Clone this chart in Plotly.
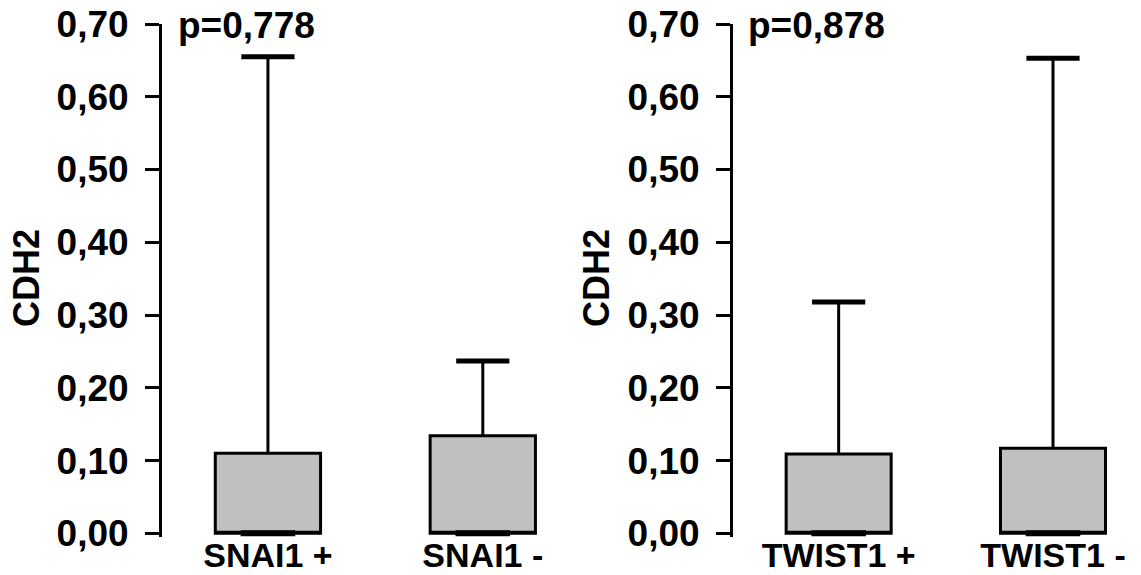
import plotly.graph_objects as go

# ---- data ----
groups_left = ["SNAI1 +", "SNAI1 -"]
q1_left = [0.0, 0.0]
median_left = [0.0, 0.0]
q3_left = [0.110, 0.134]
lower_left = [0.0, 0.0]
upper_left = [0.655, 0.237]

groups_right = ["TWIST1 +", "TWIST1 -"]
q1_right = [0.0, 0.0]
median_right = [0.0, 0.0]
q3_right = [0.109, 0.117]
lower_right = [0.0, 0.0]
upper_right = [0.318, 0.653]

p_left = "p=0,778"
p_right = "p=0,878"
y_title = "CDH2"
y_ticks = [0.0, 0.1, 0.2, 0.3, 0.4, 0.5, 0.6, 0.7]

W, H = 1141, 575
FONT = "Liberation Sans, Arial, sans-serif"

fig = go.Figure()

def add_panel(groups, q1, med, q3, lo, hi, xa, ya):
    fig.add_trace(go.Box(
        x=groups, q1=q1, median=med, q3=q3, lowerfence=lo, upperfence=hi,
        fillcolor="#C0C0C0", line=dict(color="black", width=3),
        whiskerwidth=0.36, width=0.49, boxpoints=False,
        xaxis=xa, yaxis=ya, showlegend=False, hoverinfo="skip"))
    # thick short median bar
    fig.add_trace(go.Scatter(
        x=groups, y=med, mode="markers", cliponaxis=False,
        marker=dict(symbol="line-ew", size=39, color="black",
                    line=dict(color="black", width=6)),
        xaxis=xa, yaxis=ya, showlegend=False, hoverinfo="skip"))
    # heavier whisker caps
    fig.add_trace(go.Scatter(
        x=groups, y=hi, mode="markers", cliponaxis=False,
        marker=dict(symbol="line-ew", size=38, color="black",
                    line=dict(color="black", width=5)),
        xaxis=xa, yaxis=ya, showlegend=False, hoverinfo="skip"))

add_panel(groups_left, q1_left, median_left, q3_left, lower_left, upper_left, "x", "y")
add_panel(groups_right, q1_right, median_right, q3_right, lower_right, upper_right, "x2", "y2")

ydom = [(H - 537) / H, (H - 24) / H]
ytickfont = dict(family=FONT, size=37, color="black", weight="bold")
xtickfont = dict(family=FONT, size=34, color="black", weight="bold")

yaxis_common = dict(
    range=[-0.005, 0.70], domain=ydom, tickvals=y_ticks, tickformat=".2f",
    showline=True, linecolor="black", linewidth=3, ticks="outside",
    ticklen=14, tickwidth=3, tickcolor="black", showgrid=False, zeroline=False,
    tickfont=ytickfont, automargin=False, ticklabelstandoff=9, fixedrange=True)
xaxis_common = dict(
    range=[-0.493, 1.35], showline=False, showgrid=False, zeroline=False,
    ticks="", tickfont=xtickfont, automargin=False, fixedrange=True,
    ticklabelstandoff=-5)

fig.update_layout(
    width=W, height=H, margin=dict(l=0, r=0, t=0, b=0),
    paper_bgcolor="white", plot_bgcolor="white", separators=",.",
    font=dict(family=FONT, size=35, color="black"),
    xaxis=dict(domain=[162 / W, 558 / W], anchor="y", **xaxis_common),
    yaxis=dict(anchor="x", **yaxis_common),
    xaxis2=dict(domain=[733 / W, 1128 / W], anchor="y2", **xaxis_common),
    yaxis2=dict(anchor="x2", **yaxis_common),
)

annots = [
    dict(text=p_left, x=176 / W, y=1 - 3 / H, xanchor="left", yanchor="top", size=37),
    dict(text=p_right, x=746 / W, y=1 - 3 / H, xanchor="left", yanchor="top", size=37),
    dict(text=y_title, x=26 / W, y=(H - 278) / H, textangle=-90, xanchor="center", yanchor="middle", size=36),
    dict(text=y_title, x=596 / W, y=(H - 278) / H, textangle=-90, xanchor="center", yanchor="middle", size=36),
]
for a in annots:
    sz = a.pop("size")
    fig.add_annotation(xref="paper", yref="paper", showarrow=False,
                       font=dict(family=FONT, size=sz, color="black", weight="bold"), **a)

fig.write_html("out.html")
